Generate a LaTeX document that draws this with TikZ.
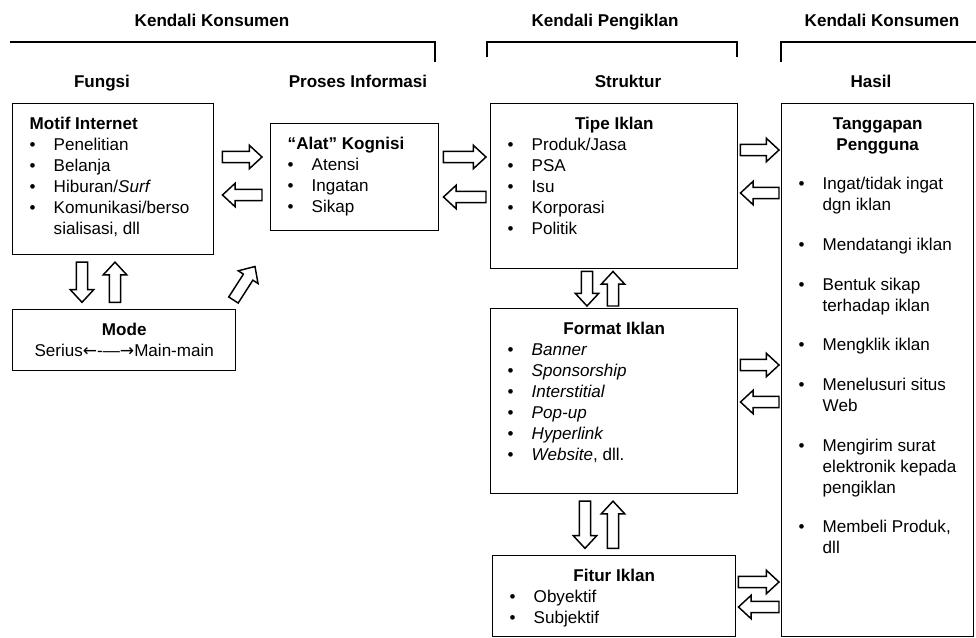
\documentclass[tikz,border=0pt]{standalone}
\usepackage{fontspec}
\setmainfont{Liberation Sans}
\newfontfamily\arrowfont{DejaVu Sans}
\usetikzlibrary{calc,positioning}

\newlength{\bulind}\setlength{\bulind}{12.75pt}
\newlength{\txtind}\setlength{\txtind}{30.75pt}
\newcommand{\itm}[1]{\par\noindent\hangindent=\txtind\hangafter=1\makebox[\txtind][l]{\hspace*{\bulind}\textbullet}#1}
\newcommand{\gitm}[1]{\par\vspace{14pt}\itm{#1}}
\newcommand{\lttl}[1]{\noindent\hspace*{\bulind}\rule{0pt}{19pt}\textbf{#1}}
\newcommand{\cttl}[1]{{\centering\rule{0pt}{19pt}\textbf{#1}\par}}
\newcommand{\boxtext}[3]{\parbox[c][#2][t]{#1}{#3}}

\tikzset{
  box/.style={draw,line width=1.1pt,inner sep=0pt,anchor=north west,
    font=\fontsize{12.8}{15.75}\selectfont},
  head/.style={inner sep=0pt,anchor=base,font=\fontsize{12.8}{15.75}\selectfont\bfseries},
  bracket/.style={line width=1.2pt},
  arr/.style={line width=1.1pt,line join=miter},
  fat/.style={to path={
    let \p1=($(\tikztostart)!#1!(\tikztotarget)$),
        \p2=($(\tikztotarget)!#1!(\tikztostart)$),
        \n1={atan2(\y2-\y1,\x2-\x1)},
        \n2={veclen(\x2-\x1,\y2-\y1)} in
    ([shift={(\p1)},rotate=\n1]0pt,-4.2pt)
    -- ([shift={(\p1)},rotate=\n1]{\n2*1pt-9.5pt},-4.2pt)
    -- ([shift={(\p1)},rotate=\n1]{\n2*1pt-9.5pt},-8.8pt)
    -- ([shift={(\p1)},rotate=\n1]{\n2*1pt},0pt)
    -- ([shift={(\p1)},rotate=\n1]{\n2*1pt-9.5pt},8.8pt)
    -- ([shift={(\p1)},rotate=\n1]{\n2*1pt-9.5pt},4.2pt)
    -- ([shift={(\p1)},rotate=\n1]0pt,4.2pt) -- cycle}},
  fat/.default=1.5pt
}

\begin{document}
\begin{tikzpicture}[x=0.75pt,y=-0.75pt]
\useasboundingbox (0,0) rectangle (976,637);

\node[head] (kk1) at (212,26) {Kendali Konsumen};
\node[head] (kp) at (605,26) {Kendali Pengiklan};
\node[head] (kk2) at (882,26) {Kendali Konsumen};
\draw[bracket] (10,42) -- (435,42) -- (435,62);
\draw[bracket] (487,57) -- (487,42) -- (737,42) -- (737,57);
\draw[bracket] (781,62) -- (781,42) -- (976,42);

\node[head] (fungsi) at (102,87) {Fungsi};
\node[head] (proses) at (358,87) {Proses Informasi};
\node[head] (struktur) at (628,87) {Struktur};
\node[head] (hasilh) at (871,87) {Hasil};

\node[box] (motif) at (12,103) {\boxtext{150.75pt}{113.25pt}{%
  \lttl{Motif Internet}\itm{Penelitian}\itm{Belanja}\itm{Hiburan/\textit{Surf}}%
  \itm{Komunikasi/berso\newline sialisasi, dll}}};
\node[box] (alat) at (270,123) {\boxtext{126pt}{80.25pt}{%
  \lttl{``Alat'' Kognisi}\itm{Atensi}\itm{Ingatan}\itm{Sikap}}};
\node[box] (tipe) at (490,103) {\boxtext{185.25pt}{123.75pt}{%
  \cttl{Tipe Iklan}\itm{Produk/Jasa}\itm{PSA}\itm{Isu}\itm{Korporasi}\itm{Politik}}};
\node[box] (mode) at (12,309) {\boxtext{167.25pt}{45.75pt}{%
  \cttl{Mode}{\centering Serius{\arrowfont ←}-{}---{\arrowfont →}Main-main\par}}};
\node[box] (format) at (490,308) {\boxtext{185.25pt}{138.75pt}{%
  \cttl{Format Iklan}\itm{\textit{Banner}}\itm{\textit{Sponsorship}}\itm{\textit{Interstitial}}%
  \itm{\textit{Pop-up}}\itm{\textit{Hyperlink}}\itm{\textit{Website}, dll.}}};
\node[box] (fitur) at (492,555) {\boxtext{182.25pt}{60.75pt}{%
  \cttl{Fitur Iklan}\itm{Obyektif}\itm{Subjektif}}};
\node[box] (hasil) at (781,103) {\boxtext{144pt}{399.75pt}{%
  \cttl{Tanggapan\\Pengguna}\vspace{14pt}\itm{Ingat/tidak ingat\newline dgn iklan}%
  \gitm{Mendatangi iklan}\gitm{Bentuk sikap\newline terhadap iklan}%
  \gitm{Mengklik iklan}\gitm{Menelusuri situs\newline Web}%
  \gitm{Mengirim surat\newline elektronik kepada\newline pengiklan}%
  \gitm{Membeli Produk,\newline dll}}};

\draw[arr] (motif.east |- 0,157) to[fat=6pt] (alat.west |- 0,157);
\draw[arr] (alat.west |- 0,195) to[fat=6pt] (motif.east |- 0,195);
\draw[arr] (alat.east |- 0,157) to[fat=3pt] (tipe.west |- 0,157);
\draw[arr] (tipe.west |- 0,197) to[fat=3pt] (alat.east |- 0,197);
\draw[arr] (tipe.east |- 0,150) to[fat] (hasil.west |- 0,150);
\draw[arr] (hasil.west |- 0,193) to[fat] (tipe.east |- 0,193);
\draw[arr] (format.east |- 0,365) to[fat] (hasil.west |- 0,365);
\draw[arr] (hasil.west |- 0,402) to[fat] (format.east |- 0,402);
\draw[arr] (fitur.east |- 0,582) to[fat] (hasil.west |- 0,582);
\draw[arr] (hasil.west |- 0,607) to[fat] (fitur.east |- 0,607);

\draw[arr] (motif.south -| 82,0) to[fat=5pt] (mode.north -| 82,0);
\draw[arr] (mode.north -| 115,0) to[fat=5pt] (motif.south -| 115,0);
\draw[arr] ([shift={(-3,-9)}]mode.north east) to[fat=0pt] ([shift={(-15,35)}]alat.south west);
\draw[arr] (tipe.south -| 587,0) to[fat] (format.north -| 587,0);
\draw[arr] (format.north -| 613,0) to[fat] (tipe.south -| 613,0);
\draw[arr] (format.south -| 585,0) to[fat=5pt] (fitur.north -| 585,0);
\draw[arr] (fitur.north -| 613,0) to[fat=5pt] (format.south -| 613,0);
\end{tikzpicture}
\end{document}
